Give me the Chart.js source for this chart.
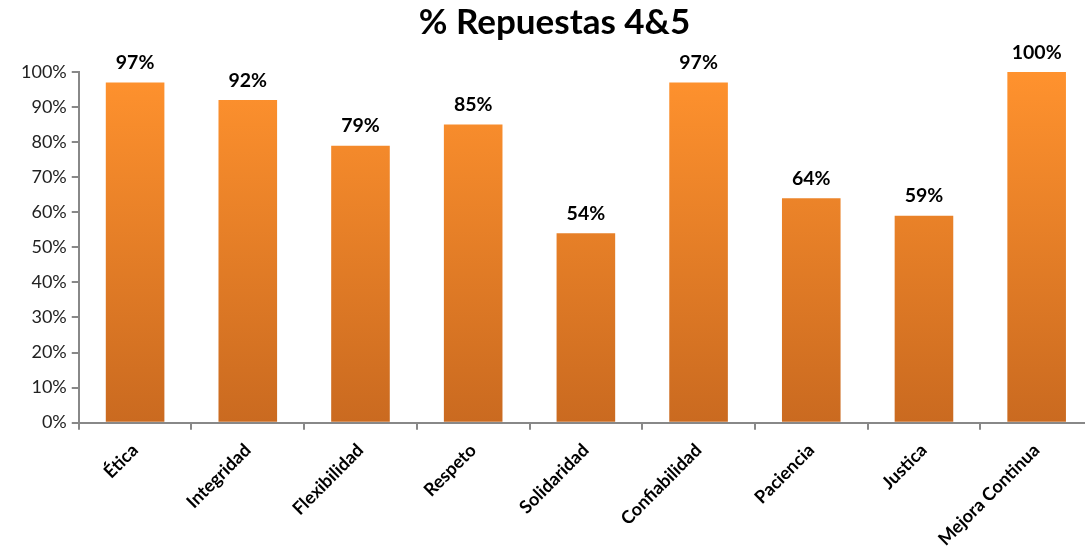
<!DOCTYPE html>
<html><head><meta charset="utf-8">
<script src="https://cdn.jsdelivr.net/npm/chart.js@4"></script>
<style>html,body{margin:0;padding:0;background:#fff;overflow:hidden}#wrap{width:1093px;height:560px;position:relative}</style>
</head><body><div id="wrap"><canvas id="c"></canvas></div>
<script>
const categories = ["Ética","Integridad","Flexibilidad","Respeto","Solidaridad","Confiabilidad","Paciencia","Justica","Mejora Continua"];
const values = [97, 92, 79, 85, 54, 97, 64, 59, 100];
const yTicks = [0,10,20,30,40,50,60,70,80,90,100];

const FONT = "Lato, 'Open Sans', sans-serif";

const labelPlugin = {
  id: 'valueLabels',
  afterDatasetsDraw(chart) {
    const ctx = chart.ctx;
    const meta = chart.getDatasetMeta(0);
    ctx.save();
    ctx.font = "bold 19.5px " + FONT;
    ctx.fillStyle = "#000";
    ctx.textAlign = "center";
    ctx.textBaseline = "bottom";
    meta.data.forEach((bar, i) => {
      ctx.fillText(values[i] + "%", bar.x, bar.y - 10);
    });
    ctx.restore();
  }
};

new Chart(document.getElementById('c'), {
  type: 'bar',
  data: {
    labels: categories,
    datasets: [{
      data: values,
      backgroundColor: (c) => {
        const a = c.chart.chartArea;
        if (!a) return '#f08a2c';
        const g = c.chart.ctx.createLinearGradient(0, a.top, 0, a.bottom);
        g.addColorStop(0, '#ff922e');
        g.addColorStop(1, '#ca6a20');
        return g;
      },
      borderWidth: 0,
      barPercentage: 0.52,
      categoryPercentage: 1.0
    }]
  },
  options: {
    responsive: true,
    maintainAspectRatio: false,
    animation: false,
    layout: { padding: { left: 16, right: 0, top: 0, bottom: 0 } },
    plugins: {
      legend: { display: false },
      tooltip: { enabled: false },
      title: {
        display: true,
        text: '% Repuestas 4&5',
        color: '#000',
        font: { family: FONT, size: 35, weight: 'bold' },
        padding: { top: 2, bottom: 28 }
      }
    },
    scales: {
      x: {
        grid: { display: true, drawOnChartArea: false, offset: true, tickLength: 7, color: '#888', lineWidth: 2 },
        border: { display: true, color: '#888', width: 2 },
        ticks: {
          color: '#000',
          font: { family: FONT, size: 18, weight: 'bold' },
          maxRotation: 45, minRotation: 45,
          padding: 10,
          autoSkip: false
        }
      },
      y: {
        min: 0, max: 100,
        afterBuildTicks: (s) => { s.ticks = yTicks.map(v => ({ value: v })); },
        grid: { display: true, drawOnChartArea: false, tickLength: 7, color: '#888', lineWidth: 2 },
        border: { display: true, color: '#888', width: 2 },
        ticks: {
          color: '#222',
          font: { family: FONT, size: 18 },
          padding: 5,
          callback: (v) => v + '%'
        }
      }
    }
  },
  plugins: [labelPlugin]
});
</script></body></html>
